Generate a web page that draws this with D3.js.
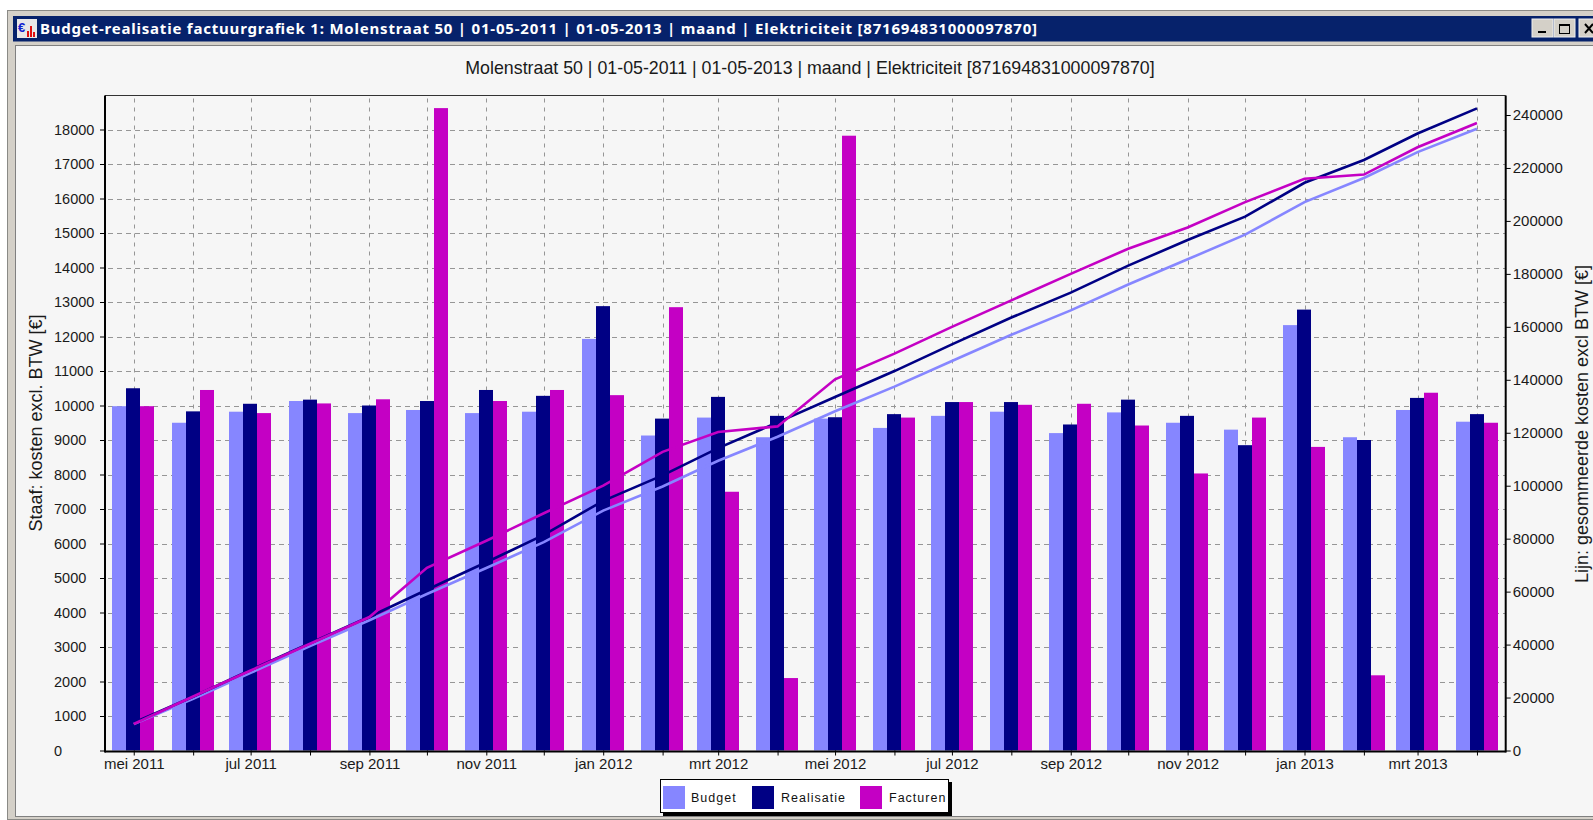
<!DOCTYPE html>
<html>
<head>
<meta charset="utf-8">
<script src="https://cdn.jsdelivr.net/npm/d3@7"></script>
<style>
    html, body { margin: 0; padding: 0; background: #fff; overflow: hidden; }
    text { font-family: "Liberation Sans", Arial, sans-serif; }
</style>
</head>
<body>
<div id="wrapper"></div>
<script>
const windowTitle = "Budget-realisatie factuurgrafiek 1: Molenstraat 50 | 01-05-2011 | 01-05-2013 | maand | Elektriciteit [871694831000097870]"
const chartTitle = "Molenstraat 50 | 01-05-2011 | 01-05-2013 | maand | Elektriciteit [871694831000097870]"
const leftLabel = "Staaf: kosten excl. BTW [€]"
const rightLabel = "Lijn: gesommeerde kosten excl BTW [€]"

const months = ["2011-05", "2011-06", "2011-07", "2011-08", "2011-09", "2011-10", "2011-11", "2011-12",
    "2012-01", "2012-02", "2012-03", "2012-04", "2012-05", "2012-06", "2012-07", "2012-08", "2012-09", "2012-10", "2012-11", "2012-12",
    "2013-01", "2013-02", "2013-03", "2013-04"]
const monthNames = ["jan", "feb", "mrt", "apr", "mei", "jun", "jul", "aug", "sep", "okt", "nov", "dec"]

const seriesNames = ["Budget", "Realisatie", "Facturen"]
const seriesColors = ["#8686ff", "#000084", "#c400c4"]

// bars, left axis
const budget = [9980, 9500, 9820, 10130, 9780, 9870, 9780, 9820, 11930, 9130, 9650, 9080, 9620, 9350, 9700, 9820, 9200, 9800, 9500, 9300, 12330, 9080, 9870, 9530]
const realisatie = [10500, 9830, 10050, 10170, 10000, 10130, 10450, 10280, 12880, 9620, 10250, 9700, 9660, 9750, 10100, 10100, 9450, 10170, 9700, 8850, 12780, 9000, 10220, 9750]
const facturen = [9980, 10450, 9780, 10060, 10180, 18620, 10130, 10450, 10300, 12850, 7500, 2100, 17820, 9650, 10100, 10020, 10050, 9420, 8030, 9650, 8800, 2180, 10370, 9500]

// lines, right axis
const budgetSum = [10000, 19500, 29300, 39400, 49200, 59100, 68900, 78700, 90600, 99700, 109400, 118500, 128100, 137400, 147100, 157000, 166200, 176000, 185500, 194800, 207100, 216200, 226000, 234800]
const realisatieSum = [10500, 20300, 30400, 40500, 50500, 60700, 71100, 81400, 94300, 103900, 114200, 123900, 133500, 143300, 153400, 163500, 172900, 183100, 192800, 201600, 214400, 223000, 233000, 242500]
const facturenSum = [10000, 20400, 30200, 40300, 50400, 69000, 79200, 89600, 100000, 112800, 120300, 122400, 140200, 149900, 160000, 170000, 180000, 189500, 197500, 207100, 215900, 217500, 227800, 237000]

const leftTicks = d3.range(0, 19000, 1000)
const rightTicks = d3.range(0, 260000, 20000)

const parseMonth = d3.timeParse("%Y-%m")
const dates = months.map(parseMonth)

let dimensions = {
    width: 1593,
    height: 820,
    plot: { left: 105, right: 1505.7, top: 95.5, bottom: 750.5 }
}

let svg = d3.select("#wrapper")
    .append("svg")
    .attr("width", dimensions.width)
    .attr("height", dimensions.height)
    .style("display", "block")

// window frame
svg.append("rect").attr("x", 7.5).attr("y", 10.5).attr("width", 1600).attr("height", 809)
    .attr("fill", "#d4d0c8").attr("stroke", "#8a8a86")
svg.append("rect").attr("x", 13).attr("y", 16).attr("width", 1590).attr("height", 25.5).attr("fill", "#06226b")
svg.append("rect").attr("x", 15.5).attr("y", 45.5).attr("width", 1590).attr("height", 771)
    .attr("fill", "#f6f6f6").attr("stroke", "#808080")

svg.append("text")
    .attr("x", 40)
    .attr("y", 34)
    .attr("fill", "#fff")
    .style("font-family", "'Noto Sans', sans-serif")
    .style("font-weight", "bold")
    .style("font-size", "15px")
    .attr("textLength", 997)
    .attr("lengthAdjust", "spacing")
    .text(windowTitle)

// title bar icon
svg.append("rect").attr("x", 17).attr("y", 19).attr("width", 20).attr("height", 19).attr("fill", "#e8e8e8")
svg.append("text").attr("x", 18).attr("y", 32).attr("fill", "#1020d0")
    .style("font-size", "13px").style("font-weight", "bold").text("€")
d3.range(3).forEach(i => {
    svg.append("rect").attr("x", 27 + i * 3).attr("y", 37 - [6, 11, 5][i]).attr("width", 2).attr("height", [6, 11, 5][i]).attr("fill", "#e01010")
})

// title bar buttons
const buttonX = [1532, 1554, 1579]
buttonX.forEach(bx => {
    svg.append("rect").attr("x", bx).attr("y", 19).attr("width", 21).attr("height", 18)
        .attr("fill", "#d4d0c8").attr("stroke", "#efefef")
})
svg.append("rect").attr("x", 1538).attr("y", 31).attr("width", 8).attr("height", 2).attr("fill", "#000")
svg.append("rect").attr("x", 1559.5).attr("y", 24.5).attr("width", 10).attr("height", 9)
    .attr("fill", "none").attr("stroke", "#000")
svg.append("rect").attr("x", 1559).attr("y", 24).attr("width", 11).attr("height", 2).attr("fill", "#000")
svg.append("path").attr("d", "M1585,24L1593,33M1593,24L1585,33").attr("stroke", "#000").attr("stroke-width", 2)

// scales
let x = d3.scaleTime()
    .domain([d3.timeDay.offset(dates[0], -14.35), d3.timeDay.offset(dates[23], 15.8)])
    .range([dimensions.plot.left, dimensions.plot.right])
let yLeft = d3.scaleLinear()
    .domain([0, 18000])
    .range([dimensions.plot.bottom, 129.5])
let yRight = d3.scaleLinear()
    .domain([0, 240000])
    .range([dimensions.plot.bottom, 115])

// grid
let grid = svg.append("g")
    .attr("stroke", "#969696")
    .attr("stroke-width", 1)
grid.selectAll(".gy").data(leftTicks.slice(1)).enter().append("line")
    .attr("stroke-dasharray", "5,4")
    .attr("x1", dimensions.plot.left + 3).attr("x2", dimensions.plot.right)
    .attr("y1", d => Math.round(yLeft(d)) + 0.5).attr("y2", d => Math.round(yLeft(d)) + 0.5)
grid.selectAll(".gx").data(dates).enter().append("line")
    .attr("stroke-dasharray", "4,5")
    .attr("x1", d => Math.round(x(d)) + 0.5).attr("x2", d => Math.round(x(d)) + 0.5)
    .attr("y1", dimensions.plot.top + 3).attr("y2", dimensions.plot.bottom)

// bars
const barWidth = 14
const barSeries = [budget, realisatie, facturen]
barSeries.forEach((values, s) => {
    svg.append("g")
        .selectAll("rect")
        .data(values)
        .enter()
        .append("rect")
        .attr("x", (d, i) => Math.round(x(dates[i]) - 0.3) + (s - 1.5) * barWidth)
        .attr("y", d => yLeft(d))
        .attr("width", barWidth)
        .attr("height", d => yLeft(0) - yLeft(d))
        .attr("fill", seriesColors[s])
})

// lines
let line = d3.line()
    .x((d, i) => x(dates[i]))
    .y(d => yRight(d))
;[budgetSum, realisatieSum, facturenSum].forEach((values, s) => {
    svg.append("path")
        .attr("d", line(values))
        .attr("fill", "none")
        .attr("stroke", seriesColors[s])
        .attr("stroke-width", 2.6)
})

// axes
function styleAxis(g) {
    g.select(".domain").remove()
    g.selectAll(".tick line").attr("stroke", "#000").attr("stroke-width", 1)
    g.selectAll(".tick text").attr("fill", "#1a1a1a").style("font-size", "15px")
}

// the left labels are left aligned in the reference
svg.append("g")
    .attr("transform", `translate(${dimensions.plot.left},0)`)
    .call(d3.axisLeft(yLeft).tickValues(leftTicks).tickFormat(d3.format("d")).tickSize(5))
    .call(styleAxis)
    .call(g => g.selectAll(".tick text")
        .attr("text-anchor", "start")
        .attr("x", 54 - dimensions.plot.left)
        .style("font-size", "14.5px"))

svg.append("g")
    .attr("transform", `translate(${dimensions.plot.right},0)`)
    .call(d3.axisRight(yRight).tickValues(rightTicks).tickFormat(d3.format("d")).tickSize(5).tickPadding(2))
    .call(styleAxis)

svg.append("g")
    .attr("transform", `translate(0,${dimensions.plot.bottom})`)
    .call(d3.axisBottom(x).tickValues(dates)
        .tickFormat((d, i) => i % 2 == 0 ? monthNames[d.getMonth()] + " " + d.getFullYear() : "")
        .tickSize(5).tickPadding(3))
    .call(styleAxis)

// plot border
svg.append("line").attr("x1", dimensions.plot.left).attr("x2", dimensions.plot.right)
    .attr("y1", dimensions.plot.top).attr("y2", dimensions.plot.top).attr("stroke", "#333").attr("stroke-width", 1)
svg.append("line").attr("x1", dimensions.plot.left).attr("x2", dimensions.plot.left)
    .attr("y1", dimensions.plot.top).attr("y2", dimensions.plot.bottom + 2).attr("stroke", "#000").attr("stroke-width", 2)
svg.append("line").attr("x1", dimensions.plot.right).attr("x2", dimensions.plot.right)
    .attr("y1", dimensions.plot.top).attr("y2", dimensions.plot.bottom + 2).attr("stroke", "#000").attr("stroke-width", 2)
svg.append("line").attr("x1", dimensions.plot.left).attr("x2", dimensions.plot.right)
    .attr("y1", dimensions.plot.bottom + 1).attr("y2", dimensions.plot.bottom + 1).attr("stroke", "#000").attr("stroke-width", 2)

// chart title and axis labels
svg.append("text").attr("x", 810).attr("y", 74).attr("text-anchor", "middle")
    .attr("fill", "#1a1a1a").style("font-size", "17.8px").text(chartTitle)
svg.append("text").attr("transform", "translate(42,423) rotate(-90)").attr("text-anchor", "middle")
    .attr("fill", "#1a1a1a").style("font-size", "18px").text(leftLabel)
svg.append("text").attr("transform", "translate(1588,424) rotate(-90)").attr("text-anchor", "middle")
    .attr("fill", "#1a1a1a").style("font-size", "18px").text(rightLabel)

// legend
svg.append("rect").attr("x", 663).attr("y", 782).attr("width", 289).attr("height", 34).attr("fill", "#000")
svg.append("rect").attr("x", 660.5).attr("y", 779.5).attr("width", 288).attr("height", 33)
    .attr("fill", "#fff").attr("stroke", "#000")
const legendSwatch = [663, 752, 860]
const legendText = [691, 781, 889]
seriesNames.forEach((name, i) => {
    svg.append("rect").attr("x", legendSwatch[i]).attr("y", 786).attr("width", 22).attr("height", 23).attr("fill", seriesColors[i])
    svg.append("text").attr("x", legendText[i]).attr("y", 802)
        .attr("fill", "#111").style("font-size", "12.5px").style("letter-spacing", "1px").text(name)
})
</script>
</body>
</html>
